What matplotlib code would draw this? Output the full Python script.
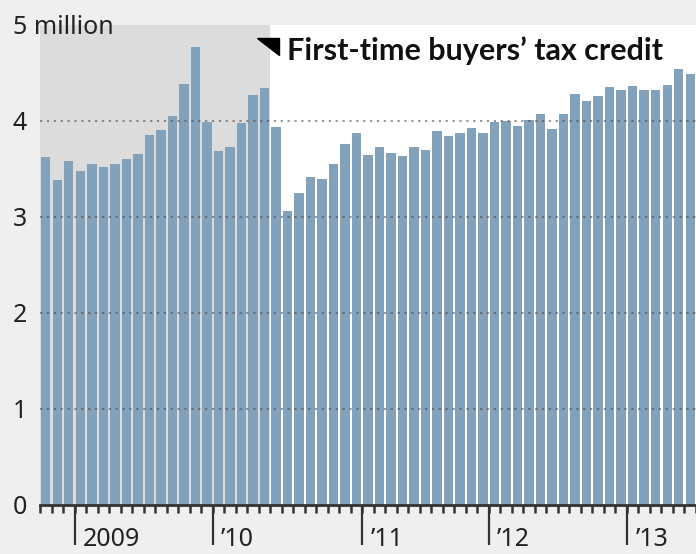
import matplotlib
matplotlib.use('Agg')
import matplotlib.pyplot as plt
from matplotlib.patches import Polygon

# monthly sales, millions, starting October 2008
sales = [3.63, 3.39, 3.58, 3.48, 3.55, 3.52, 3.55, 3.60, 3.66, 3.85,
         3.91, 4.05, 4.39, 4.77, 3.99, 3.69, 3.73, 3.98, 4.27, 4.34,
         3.94, 3.06, 3.25, 3.42, 3.40, 3.55, 3.76, 3.88, 3.65, 3.73,
         3.67, 3.64, 3.73, 3.70, 3.90, 3.84, 3.87, 3.93, 3.88, 3.99,
         4.00, 3.95, 4.01, 4.07, 3.92, 4.07, 4.28, 4.21, 4.26, 4.35,
         4.32, 4.36, 4.32, 4.32, 4.37, 4.54, 4.49]
year_labels = ['2009', '\u201910', '\u201911', '\u201912', '\u201913']
year_starts = [3, 15, 28, 39, 51]
credit_months = 20
y_ticks = [0, 1, 2, 3, 4, 5]
y_labels = ['0', '1', '2', '3', '4', '5 million']

BAR = '#82a1bb'
BG = '#efefef'

fig = plt.figure(figsize=(6.96, 5.54), dpi=100, facecolor=BG)
ax = fig.add_axes([40/696, 49/554, 656/696, 480/554])
ax.set_facecolor('white')

x = range(len(sales))
ax.bar(x, sales, width=0.82, color=BAR, zorder=2)
ax.axvspan(-0.5, credit_months - 0.5, color='#dcdcdc', zorder=1, lw=0)

for v in y_ticks[1:5]:
    ax.axhline(v, color='#444444', lw=1.1, ls=(0, (1.5, 3)), alpha=0.7, zorder=3)

ax.set_xlim(-0.5, len(sales) - 0.8)
ax.set_ylim(0, 5)

for s in ['top', 'right', 'left']:
    ax.spines[s].set_visible(False)
ax.spines['bottom'].set_color('#333333')
ax.spines['bottom'].set_linewidth(2)
ax.spines['bottom'].set_zorder(4)

# short ticks between every month, long ones at each new year
ax.xaxis.remove_overlapping_locs = False
ax.set_xticks([i - 0.5 for i in range(len(sales) + 1)])
ax.set_xticklabels([])
ax.tick_params(axis='x', length=6, width=1.8, color='#333333')
ax.set_xticks([i - 0.5 for i in year_starts], minor=True)
ax.tick_params(axis='x', which='minor', length=29, width=1.6, color='#333333')
for lab, pos in zip(year_labels, year_starts):
    ax.annotate(lab, xy=(pos - 0.5, 0), xycoords=('data', 'axes fraction'),
                xytext=(6, -25), textcoords='offset points', ha='left', va='center',
                fontsize=18, color='#222222', family='Noto Sans')

ax.set_yticks(y_ticks)
ax.set_yticklabels(y_labels, fontsize=18, color='#222222', family='Noto Sans')
for t in ax.get_yticklabels():
    t.set_ha('left')
ax.tick_params(axis='y', length=0, pad=19.5)

# tax credit marker and label
tri = Polygon([(18.34, 4.86), (20.24, 4.86), (20.24, 4.69)], closed=True,
              color='black', zorder=5)
ax.add_patch(tri)
note = ax.text(20.93, 4.635, 'First-time buyers\u2019 tax credit', fontsize=22,
               fontweight='bold', family='Lato',
               va='baseline', ha='left', color='#111111', zorder=5)
# shrink the label so it ends near the right edge
fig.canvas.draw()
w = note.get_window_extent().width
note.set_fontsize(22 * 375 / w)

fig.savefig('out.png', dpi=100, facecolor=BG)
